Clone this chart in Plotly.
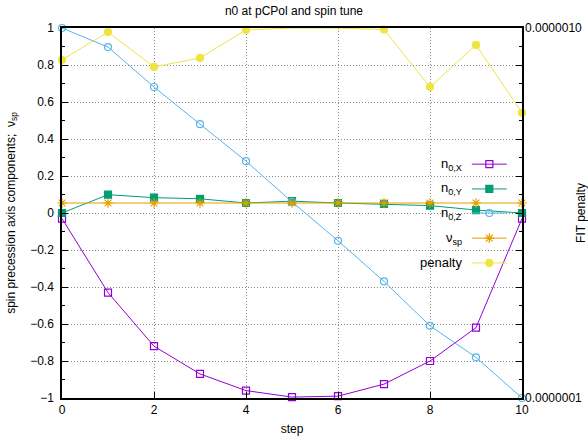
import plotly.graph_objects as go

# Iteration steps of the fit
steps = [0, 1, 2, 3, 4, 5, 6, 7, 8, 9, 10]

# Spin precession axis components at pCPol
n0_x = [-0.03, -0.43, -0.72, -0.87, -0.96, -0.995, -0.99, -0.925, -0.80, -0.62, -0.03]
n0_y = [0.0, 0.099, 0.083, 0.077, 0.054, 0.064, 0.054, 0.049, 0.040, 0.016, 0.0]
n0_z = [1.0, 0.897, 0.681, 0.48, 0.28, 0.06, -0.15, -0.37, -0.61, -0.78, -1.0]

# Spin tune
nu_sp = [0.054, 0.054, 0.054, 0.054, 0.054, 0.054, 0.054, 0.054, 0.054, 0.054, 0.054]

# FIT penalty (right axis, log scale)
penalty = [8.2e-7, 9.75e-7, 7.85e-7, 8.3e-7, 9.88e-7, 1.0e-6, 1.0e-6, 9.9e-7, 6.93e-7, 9.0e-7, 5.9e-7]

y2_tickvals = [1e-7, 1e-6]
y2_ticktext = ["0.0000001", "0.0000010"]

series = [
    ("n<sub>0,X</sub>", n0_x, "#9400d3", "square-open", 7, "y"),
    ("n<sub>0,Y</sub>", n0_y, "#009e73", "square", 7, "y"),
    ("n<sub>0,Z</sub>", n0_z, "#56b4e9", "circle-open", 7, "y"),
    ("\u03bd<sub>sp</sub>", nu_sp, "#e69f00", "asterisk-open", 8, "y"),
    ("penalty", penalty, "#f0e442", "circle", 7, "y2"),
]

FONT = "Liberation Sans, Arial, sans-serif"

fig = go.Figure()

for name, vals, color, sym, size, yax in series:
    fig.add_trace(go.Scatter(
        x=steps, y=vals, mode="lines+markers", name=name, yaxis=yax,
        line=dict(color=color, width=1),
        marker=dict(symbol=sym, size=size, color=color,
                    line=dict(color=color, width=1.2)),
        showlegend=False, cliponaxis=False,
    ))

# Key drawn gnuplot-style: label on the left, sample on the right
key_rows = [0.632, 0.565, 0.5, 0.432, 0.365]
for (name, vals, color, sym, size, yax), ky in zip(series, key_rows):
    fig.add_trace(go.Scatter(
        x=[0.891, 0.967], y=[ky, ky], mode="lines", xaxis="x3", yaxis="y3",
        line=dict(color=color, width=1), showlegend=False, hoverinfo="skip",
    ))
    fig.add_trace(go.Scatter(
        x=[0.929], y=[ky], mode="markers", xaxis="x3", yaxis="y3",
        marker=dict(symbol=sym, size=size, color=color,
                    line=dict(color=color, width=1.2)),
        showlegend=False, hoverinfo="skip",
    ))
    fig.add_annotation(
        x=0.874, y=ky, xref="x3", yref="y3", text=name, showarrow=False,
        xanchor="right", yanchor="middle", font=dict(size=13, color="#000"),
    )

grid = dict(showgrid=True, gridcolor="#8a8a8a", griddash="1px,2px", gridwidth=1)

fig.update_layout(
    width=588, height=444,
    margin=dict(l=62, r=66, t=28, b=46, autoexpand=False),
    paper_bgcolor="white", plot_bgcolor="white",
    font=dict(family=FONT, size=12, color="#000"),
    title=dict(text="n0 at pCPol and spin tune", x=0.5, xanchor="center",
               y=0.985, yanchor="top", font=dict(size=12)),
    xaxis=dict(
        range=[0, 10], tickvals=[0, 2, 4, 6, 8, 10], ticks="inside", ticklen=6,
        tickcolor="#000", showline=True, linecolor="#000", linewidth=1.5,
        mirror=True, zeroline=False, automargin=False,
        title=dict(text="step", standoff=8, font=dict(size=12)),
        tickfont=dict(size=12), **grid,
    ),
    yaxis=dict(
        range=[-1, 1], dtick=0.2, tickformat="~g", ticks="inside", ticklen=6,
        tickcolor="#000", showline=True, linecolor="#000", linewidth=1.5,
        mirror="allticks", zeroline=False, automargin=False, ticklabelstandoff=4,
        minor=dict(dtick=0.1, ticks="inside", ticklen=3, tickcolor="#000", showgrid=False),
        title=dict(text="spin precession axis components;  \u03bd<sub>sp</sub>",
                   standoff=12, font=dict(size=12)),
        tickfont=dict(size=12), **grid,
    ),
    yaxis2=dict(
        type="log", range=[-7, -6], overlaying="y", side="right",
        tickvals=y2_tickvals, ticktext=y2_ticktext, ticks="inside", ticklen=6,
        tickcolor="#000", showgrid=False, zeroline=False, showline=False,
        automargin=False, ticklabelstandoff=2,
        title=dict(text="FIT penalty", standoff=10, font=dict(size=12)),
        tickfont=dict(size=12),
    ),
    xaxis3=dict(range=[0, 1], overlaying="x", visible=False, fixedrange=True),
    yaxis3=dict(range=[0, 1], overlaying="y", visible=False, fixedrange=True),
)

fig.write_html("out.html")
